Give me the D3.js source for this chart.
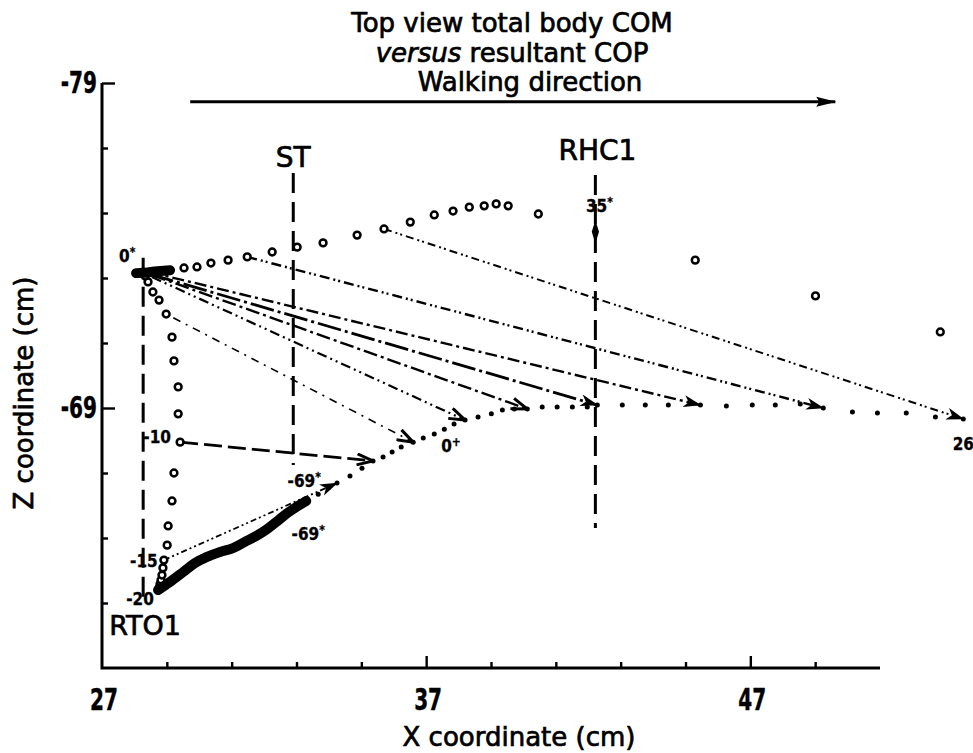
<!DOCTYPE html>
<html><head><meta charset="utf-8">
<script src="https://cdn.jsdelivr.net/npm/d3@7"></script>
<style>
body{margin:0;background:#fff;}
svg{display:block;}
text{font-family:"DejaVu Sans",sans-serif;fill:#000;stroke:#000;stroke-width:0.7px;}
.tick text{font-family:"DejaVu Sans Condensed","DejaVu Sans",sans-serif;font-weight:bold;stroke-width:0.4px;}
.small{font-family:"DejaVu Sans Condensed","DejaVu Sans",sans-serif;font-weight:bold;font-size:17px;stroke-width:0.3px;}
</style></head><body>
<svg id="chart" width="973" height="753"></svg>
<script>
// ---------- axis ticks (cm) ----------
const xTicksMajor = [27, 37, 47];
const xTicksMinor = [29, 31, 33, 35, 39, 41, 43, 45, 49];
const zTicksMajor = [-79, -69];
const zTicksMinor = [-77, -75, -73, -71, -67, -65, -63];

// ---------- total body COM, frames -20 ... 0 (X, Z in cm) ----------
const comBefore = [
  [28.76,-63.46],[28.79,-63.58],[28.82,-63.71],[28.85,-63.86],[28.88,-64.08],
  [28.91,-64.32],[29.01,-64.78],[29.04,-65.37],[29.16,-66.14],[29.22,-67.00],
  [29.41,-67.95],[29.35,-68.82],[29.35,-69.65],[29.22,-70.45],[29.16,-71.18],
  [28.98,-71.89],[28.76,-72.32],[28.57,-72.57],[28.42,-72.88],[28.33,-73.06],
  [28.27,-73.18]
];
// COM after frame 0
const comAfter = [
  [28.98,-73.22],[29.53,-73.31],[29.93,-73.34],[30.36,-73.46],[30.89,-73.55],
  [31.48,-73.65],[32.25,-73.80],[33.02,-73.95],[33.82,-74.08],[34.87,-74.32],
  [35.70,-74.51],[36.51,-74.72],[37.25,-74.94],[37.83,-75.06],[38.33,-75.18],
  [38.79,-75.22],[39.16,-75.28],[39.53,-75.22],[40.46,-74.97],[45.30,-73.55],
  [49.01,-72.45],[52.86,-71.34]
];
// COM at frame 35 (right heel contact)
const comRHC1 = [42.22,-74.42];
// dense COM samples around frame 0
const comZeroCluster = [[28.05,-73.15],[28.35,-73.16],[28.62,-73.2],[29.1,-73.24]];

// ---------- resultant COP ----------
const copSmear = [
  [28.73,-63.40],[29.10,-63.65],[29.50,-63.95],[29.87,-64.23],[30.24,-64.42],
  [30.64,-64.57],[31.04,-64.69],[31.41,-64.88],[31.75,-65.06],[32.06,-65.25],
  [32.37,-65.49],[32.68,-65.74],[32.99,-65.95],[33.30,-66.14]
];
const copDots = [
  [33.67,-66.35],[33.98,-66.54],[34.25,-66.69],[34.65,-66.91],[35.02,-67.15],
  [35.36,-67.37],[35.67,-67.49],[35.95,-67.65],[36.23,-67.80],[36.60,-67.95],
  [36.91,-68.08],[37.25,-68.20],[37.56,-68.35],[37.86,-68.51],[38.20,-68.63],
  [38.60,-68.72],[39.01,-68.82],[39.35,-68.94],[39.72,-68.97],[40.12,-68.97],
  [40.58,-69.03],[41.04,-69.03],[41.51,-69.03],[41.97,-69.03],[42.28,-69.09],
  [43.05,-69.09],[43.76,-69.09],[44.47,-69.09],[45.46,-69.09],[46.26,-69.06],
  [47.06,-69.09],[47.77,-69.09],[48.54,-69.12],[49.25,-69.00],[50.15,-68.88],
  [50.92,-68.85],[51.81,-68.85],[52.71,-68.72],[53.57,-68.66]
];

// ---------- COM -> COP vectors ----------
const vecFrom = [
  [28.91,-64.32],[29.41,-67.95],[28.98,-71.89],[28.54,-73.03],[28.54,-73.09],
  [28.48,-73.12],[28.48,-73.18],[31.48,-73.65],[35.70,-74.51]
];
const vecTo = [
  [34.25,-66.69],[35.36,-67.37],[36.60,-67.95],[38.20,-68.63],[40.12,-68.97],
  [42.28,-69.09],[45.46,-69.09],[49.25,-69.00],[53.57,-68.66]
];

// ---------- gait events (vertical reference lines) ----------
const eventNames = ["RTO1", "ST", "RHC1"];
const eventX = [28.27, 32.90, 42.22];
const eventZTop = [-73.62, -76.23, -76.17];
const eventZBottom = [-63.09, -67.25, -65.31];

// walking direction arrow
const walkArrow = [[29.72,-78.42],[49.62,-78.42]];

// ---------- styles ----------
const vecDash = ["6 3 2 3 2 3","18 6","2 6 8 6","10 4 2 4 2 4","14 4 3 4",
                 "24 4 3 4","12 4 3 4","10 4 2 3 2 4","8 4 2 3 2 4"];
const vecWidth = [1.8, 2.8, 1.6, 2.2, 2.4, 2.8, 2.4, 2.4, 2];
const vecHead = ["solid","open","open","open","open","solid","solid","solid","solid"];

// ---------- scales ----------
const x = d3.scaleLinear().domain([27, 51]).range([102, 880]);
const y = d3.scaleLinear().domain([-79, -61]).range([83, 668]);
const px = d => x(d[0]), py = d => y(d[1]);

const svg = d3.select("#chart");
const defs = svg.append("defs");
defs.append("marker").attr("id","head-open")
  .attr("viewBox","0 0 18 14").attr("refX",17).attr("refY",7)
  .attr("markerWidth",18).attr("markerHeight",14)
  .attr("markerUnits","userSpaceOnUse").attr("orient","auto")
  .append("path").attr("d","M1,1.5 L17,7 L1,12.5")
  .attr("fill","none").attr("stroke","#000").attr("stroke-width",3);
defs.append("marker").attr("id","head-solid")
  .attr("viewBox","0 0 18 14").attr("refX",17).attr("refY",7)
  .attr("markerWidth",18).attr("markerHeight",14)
  .attr("markerUnits","userSpaceOnUse").attr("orient","auto")
  .append("path").attr("d","M0,1 L18,7 L0,13 L5,7 Z").attr("fill","#000");
defs.append("marker").attr("id","head-walk")
  .attr("viewBox","0 0 20 12").attr("refX",19).attr("refY",6)
  .attr("markerWidth",20).attr("markerHeight",12)
  .attr("markerUnits","userSpaceOnUse").attr("orient","auto")
  .append("path").attr("d","M0,1 L20,6 L0,11 L3,6 Z").attr("fill","#000");

// ---------- title ----------
const title = svg.append("g").attr("text-anchor","middle").style("font-size","26px");
title.append("text").attr("x",512).attr("y",32).text("Top view total body COM");
const t2 = title.append("text").attr("x",512).attr("y",62);
t2.append("tspan").style("font-style","italic").text("versus");
t2.append("tspan").text(" resultant COP");
title.append("text").attr("x",530).attr("y",91).text("Walking direction");

svg.append("line")
  .attr("x1",px(walkArrow[0])).attr("y1",py(walkArrow[0]))
  .attr("x2",px(walkArrow[1])).attr("y2",py(walkArrow[1]))
  .attr("stroke","#000").attr("stroke-width",3).attr("marker-end","url(#head-walk)");

// ---------- axes ----------
const xMinor = svg.append("g").attr("transform","translate(0,668)")
  .call(d3.axisBottom(x).tickValues(xTicksMinor).tickSize(-6).tickFormat(""));
const xMajor = svg.append("g").attr("transform","translate(0,668)")
  .call(d3.axisBottom(x).tickValues(xTicksMajor).tickSize(-12).tickPadding(20)
        .tickFormat(d => String(d)));
const yMinor = svg.append("g").attr("transform","translate(102,0)")
  .call(d3.axisLeft(y).tickValues(zTicksMinor).tickSize(-6).tickFormat(""));
const yMajor = svg.append("g").attr("transform","translate(102,0)")
  .call(d3.axisLeft(y).tickValues(zTicksMajor).tickSize(-13).tickPadding(7)
        .tickFormat(d => String(d)));
[xMinor,xMajor,yMinor,yMajor].forEach(g => {
  g.select(".domain").remove();
  g.selectAll(".tick line").attr("stroke","#000").attr("stroke-width",2.4);
  g.selectAll(".tick text").style("font-size","31px").attr("fill","#000")
    .attr("transform","scale(0.72,1)");
});
xMajor.select(".tick line").remove(); // origin tick hidden by the corner
xMajor.selectAll(".tick text").attr("x", 2);
svg.append("path")
  .attr("d", `M${x(27)},${y(-79)}V${y(-61)}H${x(51)}`)
  .attr("fill","none").attr("stroke","#000").attr("stroke-width",3);

svg.append("text").attr("x",519).attr("y",746).attr("text-anchor","middle")
  .style("font-size","26px").text("X coordinate (cm)");
svg.append("text").attr("transform","translate(33,393) rotate(-90)")
  .attr("text-anchor","middle").style("font-size","26px").text("Z coordinate (cm)");

// ---------- event lines ----------
const ev = svg.append("g");
eventNames.forEach((n,i) => {
  ev.append("line")
    .attr("x1",x(eventX[i])).attr("x2",x(eventX[i]))
    .attr("y1",y(eventZTop[i])).attr("y2",y(eventZBottom[i]))
    .attr("stroke","#000").attr("stroke-width",3).attr("stroke-dasharray","20 9");
});
ev.append("text").attr("x",x(eventX[1])).attr("y",y(eventZTop[1])-6)
  .attr("text-anchor","middle").style("font-size","28px").text(eventNames[1]);
ev.append("text").attr("x",x(eventX[2])+2).attr("y",y(eventZTop[2])-15)
  .attr("text-anchor","middle").style("font-size","28px").text(eventNames[2]);
ev.append("text").attr("x",x(eventX[0])+2).attr("y",y(eventZBottom[0])+35)
  .attr("text-anchor","middle").style("font-size","27px").text(eventNames[0]);

// ---------- COM -> COP vectors ----------
const vec = svg.append("g").attr("fill","none").attr("stroke","#000");
vecFrom.forEach((f,i) => {
  vec.append("line")
    .attr("x1",px(f)).attr("y1",py(f))
    .attr("x2",px(vecTo[i])).attr("y2",py(vecTo[i]))
    .attr("stroke-width",vecWidth[i]).attr("stroke-dasharray",vecDash[i])
    .attr("marker-end",`url(#head-${vecHead[i]})`);
});

// ---------- COM ----------
svg.append("g").selectAll("circle").data(comBefore.concat(comAfter)).join("circle")
  .attr("cx",px).attr("cy",py).attr("r",3.4)
  .attr("fill","#fff").attr("stroke","#000").attr("stroke-width",2.5);
svg.append("path").datum(comZeroCluster)
  .attr("d", d3.line().x(px).y(py))
  .attr("fill","none").attr("stroke","#000").attr("stroke-width",10)
  .attr("stroke-linecap","round");
svg.append("path")
  .attr("d", d3.symbol(d3.symbolDiamond, 70)())
  .attr("transform", `translate(${px(comRHC1)},${py(comRHC1)}) scale(0.8,1.5)`)
  .attr("fill","#000");

// ---------- COP ----------
svg.append("path").datum(copSmear)
  .attr("d", d3.line().x(px).y(py).curve(d3.curveCatmullRom))
  .attr("fill","none").attr("stroke","#000").attr("stroke-width",10)
  .attr("stroke-linecap","round").attr("stroke-linejoin","round");
svg.append("g").selectAll("circle").data(copDots).join("circle")
  .attr("cx",px).attr("cy",py).attr("r",2.5).attr("fill","#000");

// ---------- frame labels ----------
function frameLabel(pt, dx, dy, main, sup, anchor) {
  const t = svg.append("text").attr("class","small")
    .attr("x", px(pt)+dx).attr("y", py(pt)+dy).attr("text-anchor", anchor || "middle");
  t.append("tspan").text(main);
  if (sup) t.append("tspan").attr("dy",-6).style("font-size","12px").text(sup);
}
frameLabel(comBefore[20], -16, -10, "0", "*");
frameLabel(comBefore[10], -23, 1, "-10");
frameLabel(comBefore[5], -20, 7, "-15");
frameLabel(comBefore[0], -19, 17, "-20");
frameLabel(copSmear[13], -2, -14, "-69", "*");
frameLabel(copSmear[13], 2, 39, "-69", "*");
frameLabel(vecTo[3], -14, 32, "0", "+");
frameLabel(vecTo[8], 0, 31, "26");
frameLabel(comRHC1, 4, -20, "35", "*");
</script>
</body></html>
